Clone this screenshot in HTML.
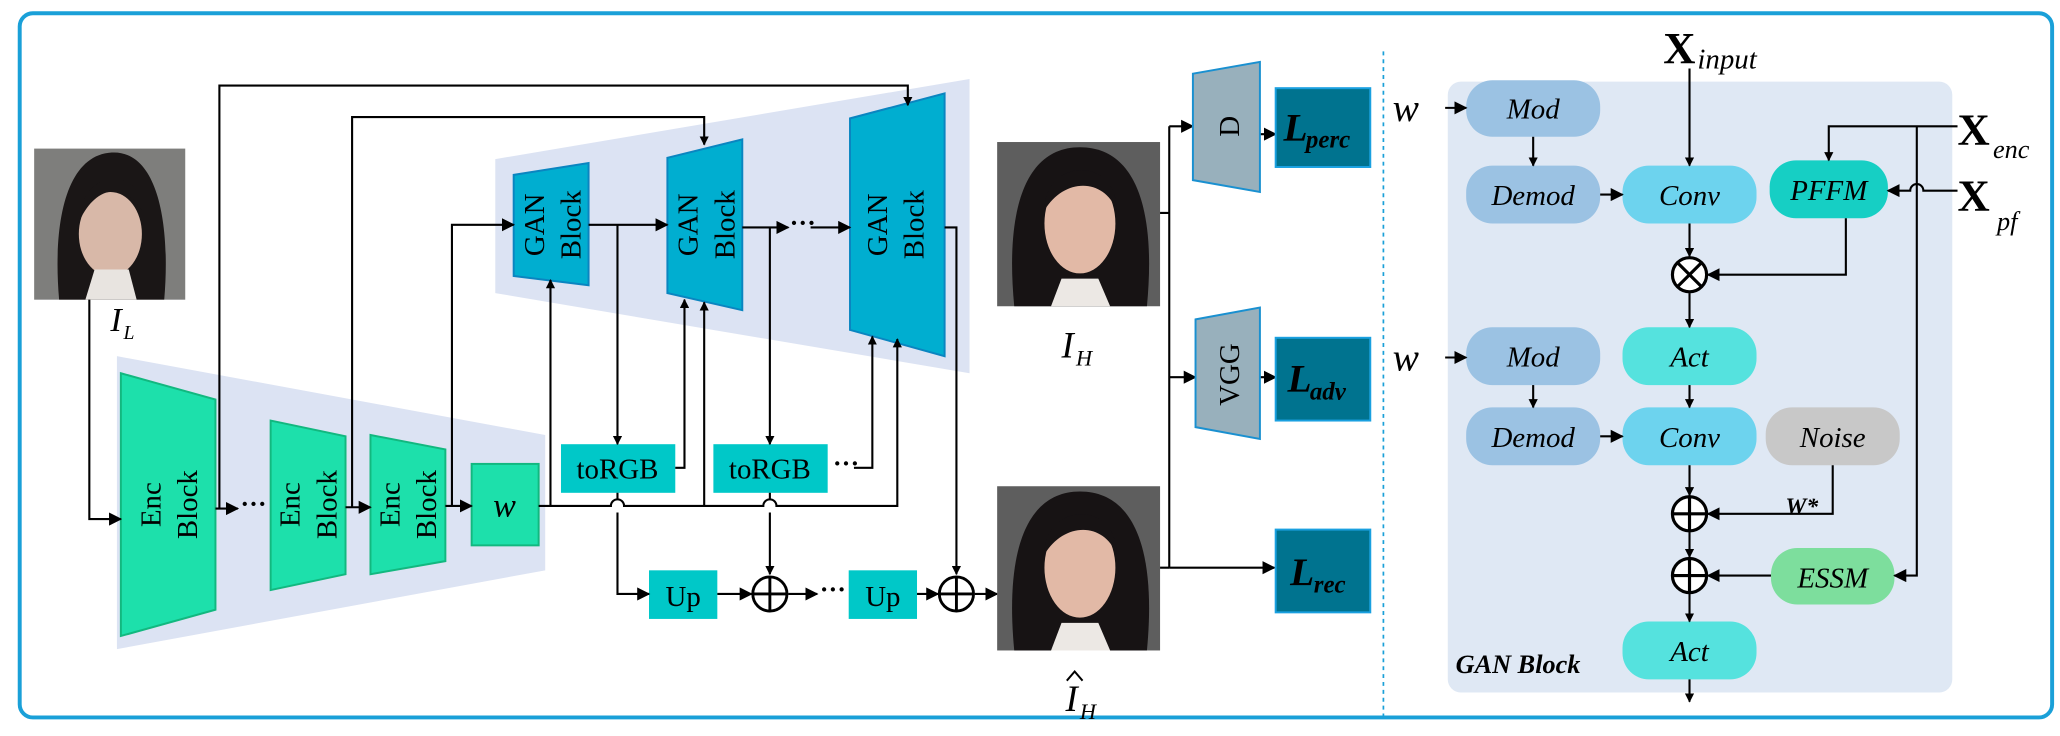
<!DOCTYPE html>
<html><head><meta charset="utf-8"><style>
html,body{margin:0;padding:0;background:#fff;}
svg{display:block;}
svg text{font-family:"Liberation Serif","Times New Roman","DejaVu Serif",serif;}
</style></head><body>
<svg width="2060" height="736" viewBox="0 0 1568 560" xmlns="http://www.w3.org/2000/svg" font-family="Liberation Serif, Times New Roman, serif">
<defs>
<marker id="a" viewBox="0 0 10 10" refX="9" refY="5" markerWidth="7" markerHeight="7" markerUnits="userSpaceOnUse" orient="auto"><path d="M0,0 L10,5 L0,10 z" fill="#000"/></marker>
<marker id="b" viewBox="0 0 10 10" refX="9" refY="5" markerWidth="10" markerHeight="10" markerUnits="userSpaceOnUse" orient="auto"><path d="M0,0 L10,5 L0,10 z" fill="#000"/></marker>
</defs>
<rect x="15" y="10" width="1547" height="536" rx="10" fill="#fff" stroke="#1aa0d8" stroke-width="3"/>

<polygon points="89,271 415,331 415,434 89,494" fill="#dce3f3"/>
<polygon points="377,121 738,60 738,284 377,223" fill="#dce3f3"/>

<g>
<rect x="26" y="113" width="115" height="115" fill="#7e7e7c"/>
<path d="M45,228 C40,170 50,118 85,116 C120,114 130,170 125,228 Z" fill="#1a1616"/>
<ellipse cx="84" cy="178" rx="24" ry="32" fill="#d8b8a8"/>
<path d="M62,165 C60,130 108,125 108,160 C96,140 75,140 62,165Z" fill="#1a1616"/>
<path d="M65,228 L72,205 L98,205 L104,228Z" fill="#e8e4e0"/>
</g>
<text x="84" y="252" font-size="26" font-style="italic">I</text><text x="94" y="258" font-size="15" font-style="italic">L</text>

<polygon points="92,284 164,304 164,464 92,484" fill="#1de0ab" stroke="#12b87f" stroke-width="1.5"/>
<polygon points="206,320 263,332 263,437 206,449" fill="#1de0ab" stroke="#12b87f" stroke-width="1.5"/>
<polygon points="282,331 339,342 339,427 282,437" fill="#1de0ab" stroke="#12b87f" stroke-width="1.5"/>
<rect x="359" y="353" width="51" height="62" fill="#1de0ab" stroke="#12b87f" stroke-width="1.5"/>
<g font-size="22" text-anchor="middle">
<text transform="translate(122,384) rotate(-90)">Enc</text>
<text transform="translate(150,384) rotate(-90)">Block</text>
<text transform="translate(228,384) rotate(-90)">Enc</text>
<text transform="translate(256,384) rotate(-90)">Block</text>
<text transform="translate(304,384) rotate(-90)">Enc</text>
<text transform="translate(332,384) rotate(-90)">Block</text>
</g>
<text x="384" y="393" font-size="26" font-style="italic" text-anchor="middle">w</text>

<polygon points="391,133 448,124 448,217 391,210" fill="#00aed0" stroke="#0a85c0" stroke-width="1.5"/>
<polygon points="508,120 565,106 565,236 508,223" fill="#00aed0" stroke="#0a85c0" stroke-width="1.5"/>
<polygon points="647,90 719,71 719,271 647,251" fill="#00aed0" stroke="#0a85c0" stroke-width="1.5"/>
<g font-size="22" text-anchor="middle">
<text transform="translate(414,171) rotate(-90)">GAN</text>
<text transform="translate(442,171) rotate(-90)">Block</text>
<text transform="translate(531,171) rotate(-90)">GAN</text>
<text transform="translate(559,171) rotate(-90)">Block</text>
<text transform="translate(675,171) rotate(-90)">GAN</text>
<text transform="translate(703,171) rotate(-90)">Block</text>
</g>

<rect x="427" y="338" width="87" height="37" fill="#00c8c8"/>
<rect x="543" y="338" width="87" height="37" fill="#00c8c8"/>
<rect x="494" y="434" width="52" height="37" fill="#00c8c8"/>
<rect x="646" y="434" width="52" height="37" fill="#00c8c8"/>
<g font-size="22" text-anchor="middle">
<text x="470" y="364">toRGB</text>
<text x="586" y="364">toRGB</text>
<text x="520" y="461">Up</text>
<text x="672" y="461">Up</text>
</g>

<g fill="none" stroke="#000" stroke-width="1.6">
<path d="M68,228 V395 H92" marker-end="url(#b)"/>
<path d="M164,387 H181" marker-end="url(#b)"/>
<path d="M263,386 H282" marker-end="url(#b)"/>
<path d="M339,385 H359" marker-end="url(#b)"/>
<path d="M167,387 V65 H691 V80" marker-end="url(#a)"/>
<path d="M268,386 V89 H536 V110" marker-end="url(#a)"/>
<path d="M344,385 V171 H391" marker-end="url(#b)"/>
<path d="M410,385 H465 a5,5 0 0 1 10,0 H581 a5,5 0 0 1 10,0 H683 V258" marker-end="url(#a)"/>
<path d="M419,385 V213" marker-end="url(#a)"/>
<path d="M536,385 V230" marker-end="url(#a)"/>
<path d="M448,171 H508" marker-end="url(#b)"/>
<path d="M470,171 V338" marker-end="url(#a)"/>
<path d="M514,356 H521 V228" marker-end="url(#a)"/>
<path d="M565,173 H600" marker-end="url(#b)"/>
<path d="M617,173 H647" marker-end="url(#b)"/>
<path d="M586,173 V338" marker-end="url(#a)"/>
<path d="M650,356 H664 V256" marker-end="url(#a)"/>
<path d="M719,173 H728 V437" marker-end="url(#a)"/>
<path d="M470,375 V380 M470,390 V452 H494" marker-end="url(#b)"/>
<path d="M586,375 V380 M586,390 V437" marker-end="url(#a)"/>
<path d="M546,452 H572" marker-end="url(#b)"/>
<path d="M600,452 H622" marker-end="url(#b)"/>
<path d="M698,452 H714" marker-end="url(#b)"/>
<path d="M742,452 H759" marker-end="url(#b)"/>
</g>
<g font-size="20" font-weight="bold">
<text x="183" y="390">···</text>
<text x="601" y="176">···</text>
<text x="634" y="359">···</text>
<text x="624" y="455">···</text>
</g>
<g fill="#fff" stroke="#000" stroke-width="2.2">
<circle cx="586" cy="452" r="13"/><circle cx="728" cy="452" r="13"/>
</g>
<g stroke="#000" stroke-width="2.2">
<path d="M573,452 H599 M586,439 V465 M715,452 H741 M728,439 V465"/>
</g>

<g>
<rect x="759" y="108" width="124" height="125" fill="#5e5e5e"/>
<path d="M772,233 C765,160 780,112 822,112 C865,112 880,160 873,233 Z" fill="#171314"/>
<ellipse cx="822" cy="170" rx="27" ry="38" fill="#e2b9a6"/>
<path d="M795,160 C795,120 850,118 850,160 C840,135 810,135 795,160Z" fill="#171314"/>
<path d="M800,233 L808,212 L836,212 L845,233Z" fill="#ece8e4"/>
</g>
<g>
<rect x="759" y="370" width="124" height="125" fill="#5e5e5e"/>
<path d="M772,495 C765,422 780,374 822,374 C865,374 880,422 873,495 Z" fill="#171314"/>
<ellipse cx="822" cy="432" rx="27" ry="38" fill="#e2b9a6"/>
<path d="M795,422 C795,382 850,380 850,422 C840,397 810,397 795,422Z" fill="#171314"/>
<path d="M800,495 L808,474 L836,474 L845,495Z" fill="#ece8e4"/>
</g>
<text x="808" y="272" font-size="28" font-style="italic">I</text><text x="819" y="278" font-size="17" font-style="italic">H</text>
<text x="811" y="541" font-size="28" font-style="italic">I</text><text x="822" y="547" font-size="17" font-style="italic">H</text>
<path d="M812,518 L818,511 L824,518" fill="none" stroke="#000" stroke-width="1.5"/>

<g fill="none" stroke="#000" stroke-width="1.6">
<path d="M883,162 H890 M883,432 H890 M890,96 V432"/>
<path d="M890,96 H908" marker-end="url(#b)"/>
<path d="M890,287 H910" marker-end="url(#b)"/>
<path d="M890,432 H970" marker-end="url(#b)"/>
<path d="M959,102 H971" marker-end="url(#b)"/>
<path d="M959,287 H971" marker-end="url(#b)"/>
</g>
<polygon points="908,56 959,47 959,146 908,137" fill="#98b0bc" stroke="#1a90d0" stroke-width="1.5"/>
<polygon points="910,243 959,234 959,334 910,325" fill="#98b0bc" stroke="#1a90d0" stroke-width="1.5"/>
<text transform="translate(943,96) rotate(-90)" font-size="22" text-anchor="middle">D</text>
<text transform="translate(943,285) rotate(-90)" font-size="22" text-anchor="middle">VGG</text>
<g fill="#00738f" stroke="#1aa0e0" stroke-width="1.5">
<rect x="971" y="67" width="72" height="60"/>
<rect x="971" y="257" width="72" height="63"/>
<rect x="971" y="403" width="72" height="63"/>
</g>
<g font-weight="bold" font-style="italic">
<text x="977" y="107" font-size="30">L</text><text x="994" y="112" font-size="19">perc</text>
<text x="980" y="298" font-size="30">L</text><text x="997" y="304" font-size="19">adv</text>
<text x="982" y="445" font-size="30">L</text><text x="1000" y="451" font-size="19">rec</text>
</g>

<line x1="1053" y1="39" x2="1053" y2="546" stroke="#1aa0d8" stroke-width="1.3" stroke-dasharray="3,3"/>

<rect x="1102" y="62" width="384" height="465" rx="10" fill="#dfe8f4"/>
<g font-size="22" font-style="italic" text-anchor="middle">
<rect x="1116" y="61" width="102" height="43" rx="20" fill="#9bc2e3"/><text x="1167" y="90">Mod</text>
<rect x="1116" y="126" width="102" height="44" rx="20" fill="#9bc2e3"/><text x="1167" y="156">Demod</text>
<rect x="1235" y="126" width="102" height="44" rx="20" fill="#6dd3ee"/><text x="1286" y="156">Conv</text>
<rect x="1347" y="122" width="90" height="44" rx="20" fill="#16cfc4"/><text x="1392" y="152">PFFM</text>
<rect x="1116" y="249" width="102" height="44" rx="20" fill="#9bc2e3"/><text x="1167" y="279">Mod</text>
<rect x="1235" y="249" width="102" height="44" rx="20" fill="#55e2de"/><text x="1286" y="279">Act</text>
<rect x="1116" y="310" width="102" height="44" rx="20" fill="#9bc2e3"/><text x="1167" y="340">Demod</text>
<rect x="1235" y="310" width="102" height="44" rx="20" fill="#6dd3ee"/><text x="1286" y="340">Conv</text>
<rect x="1344" y="310" width="102" height="44" rx="20" fill="#c8c8c8"/><text x="1395" y="340">Noise</text>
<rect x="1348" y="417" width="94" height="43" rx="20" fill="#7dde9d"/><text x="1395" y="447">ESSM</text>
<rect x="1235" y="473" width="102" height="44" rx="20" fill="#55e2de"/><text x="1286" y="503">Act</text>
</g>
<g fill="none" stroke="#000" stroke-width="1.6">
<path d="M1100,82 H1116" marker-end="url(#b)"/>
<path d="M1100,272 H1116" marker-end="url(#b)"/>
<path d="M1167,104 V126" marker-end="url(#a)"/>
<path d="M1167,293 V310" marker-end="url(#a)"/>
<path d="M1218,148 H1235" marker-end="url(#b)"/>
<path d="M1218,332 H1235" marker-end="url(#b)"/>
<path d="M1286,52 V126" marker-end="url(#a)"/>
<path d="M1286,170 V195" marker-end="url(#a)"/>
<path d="M1286,223 V249" marker-end="url(#a)"/>
<path d="M1286,293 V310" marker-end="url(#a)"/>
<path d="M1286,354 V377" marker-end="url(#a)"/>
<path d="M1286,405 V424" marker-end="url(#a)"/>
<path d="M1286,452 V473" marker-end="url(#a)"/>
<path d="M1286,517 V534" marker-end="url(#a)"/>
<path d="M1490,96 H1392 V122" marker-end="url(#a)"/>
<path d="M1459,96 V438 H1442" marker-end="url(#b)"/>
<path d="M1490,145 H1464 a5,5 0 0 0 -10,0 H1437" marker-end="url(#b)"/>
<path d="M1405,166 V209 H1300" marker-end="url(#b)"/>
<path d="M1395,354 V391 H1300" marker-end="url(#b)"/>
<path d="M1348,438 H1300" marker-end="url(#b)"/>
</g>
<g fill="#fff" stroke="#000" stroke-width="2.4">
<circle cx="1286" cy="209" r="13"/><circle cx="1286" cy="391" r="13"/><circle cx="1286" cy="438" r="13"/>
</g>
<g stroke="#000" stroke-width="2.4">
<path d="M1277,200 L1295,218 M1295,200 L1277,218"/>
<path d="M1273,391 H1299 M1286,378 V404 M1273,438 H1299 M1286,425 V451"/>
</g>
<g font-style="italic">
<text x="1060" y="92" font-size="30">w</text>
<text x="1060" y="282" font-size="30">w</text>
<text x="1359" y="391" font-size="18" font-weight="bold">W*</text>
<text x="1108" y="512" font-size="20" font-weight="bold">GAN Block</text>
</g>
<text x="1266" y="48" font-size="34" font-weight="bold">X</text><text x="1292" y="52" font-size="22" font-style="italic">input</text>
<text x="1490" y="110" font-size="34" font-weight="bold">X</text><text x="1517" y="120" font-size="20" font-style="italic">enc</text>
<text x="1490" y="160" font-size="34" font-weight="bold">X</text><text x="1520" y="175" font-size="20" font-style="italic">pf</text>
</svg>
</body></html>
